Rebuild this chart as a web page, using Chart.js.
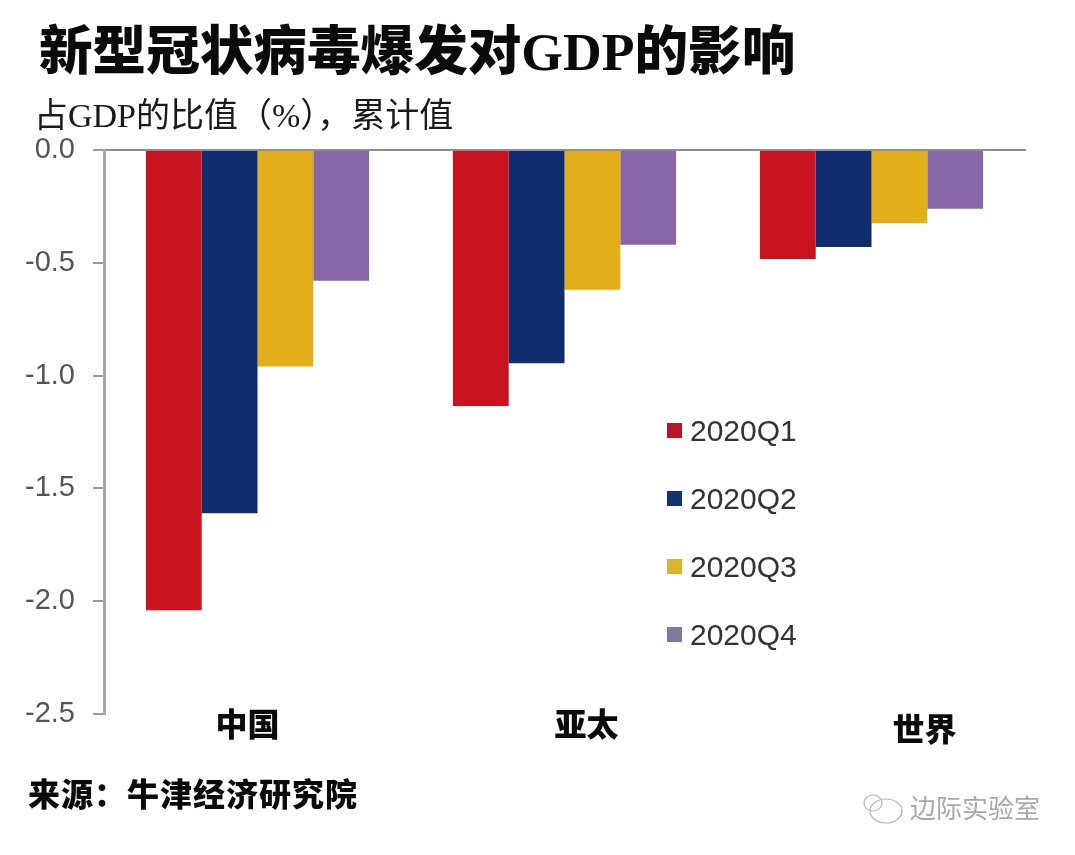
<!DOCTYPE html>
<html lang="zh-CN">
<head>
<meta charset="utf-8">
<title>新型冠状病毒爆发对GDP的影响</title>
<script src="https://cdn.jsdelivr.net/npm/chart.js@4/dist/chart.umd.min.js"></script>
<style>
html,body{margin:0;padding:0;background:#fff;}
#wrap{position:relative;width:1075px;height:855px;overflow:hidden;}
#c{position:absolute;left:0;top:0;}
.t{position:absolute;white-space:nowrap;line-height:1;}
#title{left:39px;top:26px;font:900 53.6px/1 "Liberation Serif","Noto Sans CJK SC";color:#0a0a0a;}
#sub{left:34px;top:99px;font:400 34px/1 "Liberation Serif","Noto Sans CJK SC";color:#1a1a1a;}
#src{left:28px;top:776px;font:900 32px/1 "Noto Sans CJK SC";color:#0a0a0a;letter-spacing:1px;}
#wm{left:910px;top:794px;font:400 26px/1 "Noto Sans CJK SC";color:#a8a8a8;}
</style>
</head>
<body>
<div id="wrap">
<canvas id="c" width="1075" height="855"></canvas>
<div class="t" id="title">新型冠状病毒爆发对GDP的影响</div>
<div class="t" id="sub">占GDP的比值（%），累计值</div>
<div class="t" id="src">来源：牛津经济研究院</div>
<div class="t" id="wm">边际实验室</div>
</div>
<script>
const categories = ['中国', '亚太', '世界'];
const seriesNames = ['2020Q1', '2020Q2', '2020Q3', '2020Q4'];
const q1 = [-2.04, -1.135, -0.483];
const q2 = [-1.61, -0.945, -0.43];
const q3 = [-0.96, -0.62, -0.325];
const q4 = [-0.58, -0.42, -0.26];
const barColors = ['#C8141E', '#0F2D6E', '#E2AE1A', '#8766A8'];
const legendColors = ['#B5172A', '#12336B', '#D9B52E', '#7F7AA0'];
const labelShift = [-10, 22, 53];

const annotations = {
  id: 'annotations',
  afterDraw(chart) {
    const ctx = chart.ctx;
    const xs = chart.scales.x;
    ctx.save();
    ctx.textBaseline = 'middle';
    ctx.textAlign = 'center';
    ctx.fillStyle = '#0a0a0a';
    ctx.font = '900 32px "Noto Sans CJK SC"';
    categories.forEach((c, i) => {
      ctx.fillText(c, xs.getPixelForTick(i) + labelShift[i], 724 + (i === 2 ? 5 : 0));
    });
    ctx.textAlign = 'left';
    ctx.font = '30px "Liberation Sans"';
    chart.data.datasets.forEach((d, i) => {
      const y = 431 + i * 68;
      ctx.fillStyle = legendColors[i];
      ctx.fillRect(667, y - 8, 15, 15);
      ctx.fillStyle = '#333';
      ctx.fillText(d.label, 690, y + 2);
    });
    // watermark icon
    ctx.strokeStyle = '#b4b4b4';
    ctx.lineWidth = 1.2;
    ctx.beginPath();
    ctx.ellipse(886, 811, 16, 12, 0, 0, Math.PI * 2);
    ctx.stroke();
    ctx.beginPath();
    ctx.ellipse(873, 803, 9, 8, 0, 0, Math.PI * 2);
    ctx.stroke();
    ctx.restore();
  }
};

new Chart(document.getElementById('c'), {
  type: 'bar',
  data: {
    labels: categories,
    datasets: [q1, q2, q3, q4].map((v, i) => ({
      label: seriesNames[i],
      data: v,
      backgroundColor: barColors[i],
      borderWidth: 0,
      barPercentage: 1,
      categoryPercentage: 0.727
    }))
  },
  options: {
    responsive: false,
    animation: false,
    layout: { padding: { top: 150, bottom: 141, right: 50, left: 0 } },
    plugins: { legend: { display: false }, title: { display: false }, tooltip: { enabled: false } },
    scales: {
      x: {
        position: 'top',
        grid: { display: false, drawTicks: false },
        border: { color: '#8f8f8f', width: 2 },
        ticks: { display: false },
        afterFit(s) { s.height = 0; }
      },
      y: {
        min: -2.5,
        max: 0,
        afterFit(s) { s.width = 104; },
        grid: { drawOnChartArea: false, drawTicks: true, tickLength: 11, color: '#999', lineWidth: 2 },
        border: { color: '#a8a8a8', width: 3 },
        ticks: {
          stepSize: 0.5,
          padding: 18,
          color: '#555',
          font: { family: '"Liberation Sans"', size: 29 },
          callback: v => v.toFixed(1)
        }
      }
    }
  },
  plugins: [annotations]
});
</script>
</body>
</html>
